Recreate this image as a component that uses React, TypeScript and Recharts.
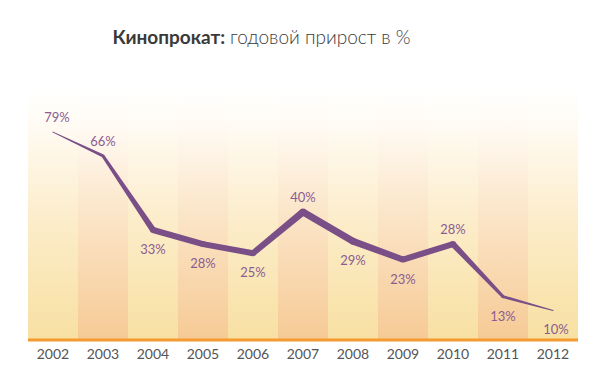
import { Bar, Cell, ComposedChart, LabelList, Line, XAxis, YAxis } from "recharts";

const years = ["2002", "2003", "2004", "2005", "2006", "2007", "2008", "2009", "2010", "2011", "2012"];
const growth = [79, 66, 33, 28, 25, 40, 29, 23, 28, 13, 10];

// the original's vertical spacing is compressed like a square-root scale
const Y_MIN = 4.9;
const Y_MAX = 105.5;

const ORANGE = "#f39a31";
const PURPLE = "#7a4e86";
const LABEL = "#8b5c92";
const FONT = "Lato, 'Open Sans', sans-serif";

// the original line tapers: thin at both ends, thick in the middle
const lineWidths = [1, 3, 6, 6, 6, 7, 7, 6, 6, 3, 1];
const labelSides = ["top", "top", "bottom", "bottom", "bottom", "top", "bottom", "bottom", "top", "bottom", "bottom"];

const chartData = years.map((year, i) => ({ year, growth: growth[i] }));

function TaperedSegment(props: any) {
  const { index, points, cx, cy } = props;
  const w0 = lineWidths[index] ?? 3;
  const next = points?.[index + 1];
  if (!next) {
    return <circle key={`seg-${index}`} cx={cx} cy={cy} r={w0 / 2} fill={PURPLE} />;
  }
  const w1 = lineWidths[index + 1] ?? 3;
  const dx = next.x - cx;
  const dy = next.y - cy;
  const len = Math.hypot(dx, dy) || 1;
  const nx = -dy / len;
  const ny = dx / len;
  const poly = [
    [cx + (nx * w0) / 2, cy + (ny * w0) / 2],
    [next.x + (nx * w1) / 2, next.y + (ny * w1) / 2],
    [next.x - (nx * w1) / 2, next.y - (ny * w1) / 2],
    [cx - (nx * w0) / 2, cy - (ny * w0) / 2],
  ]
    .map((p) => p.join(","))
    .join(" ");
  return (
    <g key={`seg-${index}`}>
      <polygon points={poly} fill={PURPLE} />
      <circle cx={cx} cy={cy} r={w0 / 2} fill={PURPLE} />
    </g>
  );
}

function renderValueLabel(props: any) {
  const { x, y, value, index } = props;
  const above = labelSides[index] === "top";
  return (
    <text
      key={`lbl-${index}`}
      x={x + (index === 0 ? 4 : index === years.length - 1 ? 3 : 0)}
      y={above ? y - 10 : y + 24}
      textAnchor="middle"
      fill={LABEL}
      fontSize={13}
      fontFamily={FONT}
    >
      {`${value}%`}
    </text>
  );
}

export default function App() {
  return (
    <div style={{ position: "absolute", left: 0, top: 0, width: 600, height: 378, background: "#fff" }}>
      <div
        style={{
          position: "absolute",
          left: 0,
          top: 25,
          width: 523,
          textAlign: "center",
          fontFamily: FONT,
          fontSize: 19,
          color: "#3a3a3a",
        }}
      >
        <b>Кинопрокат:</b> <span style={{ fontWeight: 300 }}>годовой прирост в %</span>
      </div>
      <ComposedChart
        width={600}
        height={378}
        data={chartData}
        margin={{ top: 89, right: 22, bottom: 8, left: 28 }}
        barCategoryGap={0}
        barGap={0}
      >
        <defs>
          <linearGradient id="stripeLight" x1="0" y1="0" x2="0" y2="1">
            <stop offset="0%" stopColor="#ffffff" />
            <stop offset="15%" stopColor="#fffbf3" />
            <stop offset="50%" stopColor="#fcedcc" />
            <stop offset="100%" stopColor="#f8e0a2" />
          </linearGradient>
          <linearGradient id="stripeDark" x1="0" y1="0" x2="0" y2="1">
            <stop offset="0%" stopColor="#ffffff" />
            <stop offset="15%" stopColor="#fffaf3" />
            <stop offset="50%" stopColor="#fbe5c8" />
            <stop offset="100%" stopColor="#f6ca95" />
          </linearGradient>
        </defs>
        <XAxis
          dataKey="year"
          axisLine={{ stroke: ORANGE, strokeWidth: 3 }}
          tickLine={false}
          tick={{ fill: "#555", fontSize: 14, fontFamily: FONT }}
          tickMargin={3}
          height={30}
        />
        <YAxis
          domain={[Y_MIN, Y_MAX]}
          scale="sqrt"
          allowDataOverflow
          width={0}
          tick={false}
          tickLine={false}
          axisLine={{ stroke: ORANGE, strokeWidth: 3 }}
        />
        <Bar dataKey={() => [Y_MIN, Y_MAX]} isAnimationActive={false}>
          {chartData.map((d, i) => (
            <Cell key={d.year} fill={i % 2 === 0 ? "url(#stripeLight)" : "url(#stripeDark)"} />
          ))}
        </Bar>
        <Line
          dataKey="growth"
          stroke="none"
          dot={TaperedSegment}
          activeDot={false}
          isAnimationActive={false}
        >
          <LabelList dataKey="growth" content={renderValueLabel} />
        </Line>
      </ComposedChart>
    </div>
  );
}
